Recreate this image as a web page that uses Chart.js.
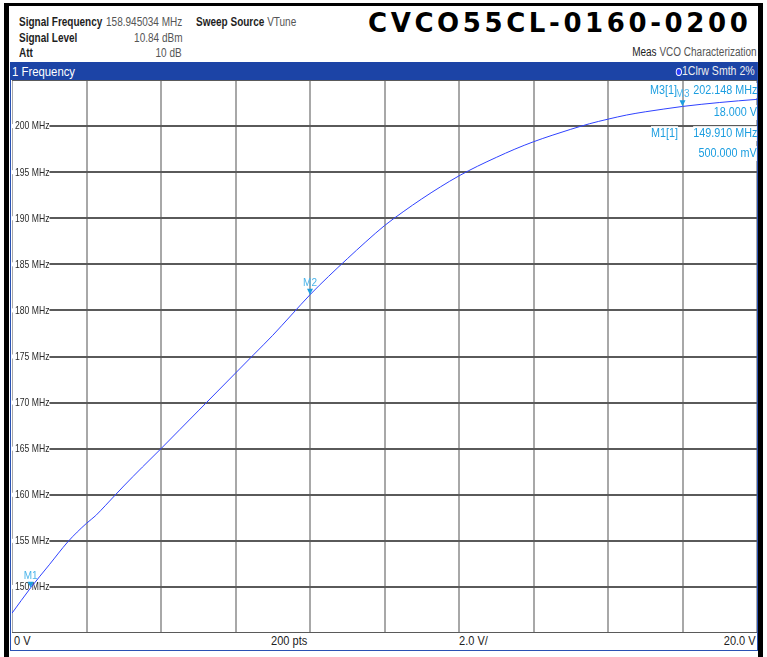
<!DOCTYPE html>
<html>
<head>
<meta charset="utf-8">
<script src="https://cdn.jsdelivr.net/npm/chart.js@4.4.0/dist/chart.umd.min.js"></script>
<style>
body { margin: 0; width: 767px; height: 657px; overflow: hidden; position: relative; background: #fff;
  font-family: "Liberation Sans", Arial, sans-serif; }
.t { position: absolute; white-space: nowrap; font-size: 12.5px; line-height: 15px;
  transform: scaleX(0.8); transform-origin: left center; }
.r { text-align: right; transform-origin: right center; }
.b { font-weight: bold; color: #1e1e1e; }
.g { color: #555; }
.mk { color: #1c9ee0; background: rgba(255,255,255,0.85); z-index: 5; font-size: 12px; transform: scaleX(0.9); }
.ax { color: #222; font-size: 12px; transform: scaleX(0.92); }
#frameL { position: absolute; left: 4px; top: 3px; width: 5px; height: 660px; background: #000; }
#frameR { position: absolute; left: 758px; top: 3px; width: 5px; height: 660px; background: #000; }
#frameT { position: absolute; left: 4px; top: 3px; width: 759px; height: 3px; background: #000; }
#bar { position: absolute; left: 10px; top: 62px; width: 747px; height: 18px; background: #1c44a6; }
#edge { position: absolute; left: 10px; top: 62px; width: 746px; height: 588px; border: 1px solid #2a52b4; border-top: none; }
#plot { position: absolute; left: 12px; top: 80px; width: 745px; height: 553px; }
#title { position: absolute; left: 368px; top: 10px; font-family: "DejaVu Sans", sans-serif; font-weight: bold;
  font-size: 26px; line-height: 26px; letter-spacing: 3.6px; color: #000; white-space: nowrap; }
</style>
</head>
<body>
<div id="frameL"></div><div id="frameR"></div><div id="frameT"></div>
<div id="edge"></div>

<div class="t b" style="left:19px;top:15px">Signal Frequency</div>
<div class="t g r" style="right:585px;top:15px">158.945034 MHz</div>
<div class="t b" style="left:19px;top:31px">Signal Level</div>
<div class="t g r" style="right:585px;top:31px">10.84 dBm</div>
<div class="t b" style="left:19px;top:46px">Att</div>
<div class="t g r" style="right:585px;top:46px">10 dB</div>
<div class="t" style="left:196px;top:15px"><span class="b">Sweep Source</span> <span class="g">VTune</span></div>
<div id="title">CVCO55CL-0160-0200</div>
<div class="t r" style="right:10px;top:45px"><span style="color:#222">Meas</span> <span class="g">VCO Characterization</span></div>

<div id="bar"></div>
<div class="t" style="left:12px;top:64px;font-size:13.5px;color:#fff;z-index:3;transform:scaleX(0.84)">1 Frequency</div>
<div class="t r" style="right:12px;top:64px;font-size:12px;color:#eee;z-index:3;transform:scaleX(0.88)"><span style="display:inline-block;width:5px;height:6px;border-radius:50%;background:#2d3cff;border:1px solid #fff;vertical-align:-1px"></span>1Clrw Smth 2%</div>

<div id="plot"><canvas id="chart" width="745" height="553"></canvas></div>

<div class="t mk" style="left:650px;top:83px">M3[1]</div>
<div class="t mk r" style="right:10px;top:83px">202.148 MHz</div>
<div class="t mk r" style="right:10px;top:105px">18.000 V</div>
<div class="t mk" style="left:651px;top:126px">M1[1]</div>
<div class="t mk r" style="right:10px;top:126px">149.910 MHz</div>
<div class="t mk r" style="right:10px;top:146px">500.000 mV</div>

<div class="t ax" style="left:14px;top:634px">0 V</div>
<div class="t ax" style="left:271px;top:634px">200 pts</div>
<div class="t ax" style="left:459px;top:634px">2.0 V/</div>
<div class="t ax r" style="right:11px;top:634px">20.0 V</div>

<script>
const tuneVolts = [0, 0.5, 1, 1.5, 1.75, 2, 2.25, 2.5, 3, 3.5, 4, 4.5, 5, 5.5, 6, 6.5, 7, 7.5, 8, 8.5, 9, 9.5, 10,
  10.5, 11, 11.5, 12, 12.5, 13, 13.5, 14, 14.5, 15, 15.5, 16, 16.5, 17, 17.5, 18, 18.5, 19, 19.5, 20];
const freqMHz = [147.15, 149.9, 152.4, 154.9, 155.95, 156.9, 157.75, 158.8, 160.95, 163.0, 165.0, 167.05, 169.1, 171.15, 173.2,
  175.25, 177.3, 179.5, 181.7, 183.7, 185.6, 187.45, 189.2, 190.7, 192.1, 193.4, 194.6, 195.65, 196.6, 197.5,
  198.3, 199.0, 199.65, 200.25, 200.75, 201.2, 201.55, 201.85, 202.13, 202.36, 202.56, 202.74, 202.9];

const freqTicks = [150, 155, 160, 165, 170, 175, 180, 185, 190, 195, 200];

const markerNames = ['M1', 'M2', 'M3'];
const markerVolts = [0.5, 8, 18];
const markerFreq = [149.91, 181.7, 202.148];

const FONT = '"Liberation Sans", Arial, sans-serif';

// y labels sit inside the plot, the grid line starts where the text ends
const freqLabels = {
  id: 'freqLabels',
  beforeDatasetsDraw(chart) {
    const ctx = chart.ctx, ys = chart.scales.y, left = chart.chartArea.left;
    ctx.save();
    ctx.font = '10.5px ' + FONT;
    ctx.textBaseline = 'middle';
    freqTicks.forEach(f => {
      const py = ys.getPixelForValue(f);
      const txt = f + ' MHz';
      const w = ctx.measureText(txt).width * 0.82;
      ctx.fillStyle = '#fff';
      ctx.fillRect(left, py - 2, w + 3, 4);
      ctx.save();
      ctx.translate(left + 3, py);
      ctx.scale(0.82, 1);
      ctx.fillStyle = '#2a2a2a';
      ctx.fillText(txt, 0, 0.5);
      ctx.restore();
    });
    ctx.restore();
  }
};

const markerPlugin = {
  id: 'markers',
  afterDatasetsDraw(chart) {
    const ctx = chart.ctx;
    const xs = chart.scales.x, ys = chart.scales.y;
    ctx.save();
    markerNames.forEach((name, i) => {
      const px = xs.getPixelForValue(markerVolts[i]);
      const py = ys.getPixelForValue(markerFreq[i]);
      ctx.fillStyle = '#1c9ee0';
      ctx.beginPath();
      ctx.moveTo(px - 3, py - 6);
      ctx.lineTo(px + 3, py - 6);
      ctx.lineTo(px, py);
      ctx.closePath();
      ctx.fill();
      ctx.fillStyle = '#4ab4ea';
      ctx.font = '10px ' + FONT;
      ctx.textAlign = 'center';
      ctx.fillText(name, px, py - 9);
    });
    ctx.restore();
  }
};

const noPad = s => { s.paddingTop = 0; s.paddingBottom = 0; s.paddingLeft = 0; s.paddingRight = 0; };

new Chart(document.getElementById('chart'), {
  type: 'line',
  data: {
    datasets: [{
      data: tuneVolts.map((v, i) => ({ x: v, y: freqMHz[i] })),
      borderColor: '#2f42ff',
      borderWidth: 1,
      pointRadius: 0,
      cubicInterpolationMode: 'monotone'
    }]
  },
  options: {
    responsive: false,
    animation: false,
    layout: { padding: 0 },
    scales: {
      x: {
        type: 'linear', min: 0, max: 20,
        ticks: { display: false, stepSize: 2 },
        grid: { color: '#a8a8a8', lineWidth: 2, drawTicks: false },
        border: { display: false },
        afterFit: s => { s.height = 0; noPad(s); }
      },
      y: {
        min: 145, max: 205,
        ticks: { display: false, stepSize: 5 },
        grid: { color: '#5a5a5a', lineWidth: 2, drawTicks: false },
        border: { display: false },
        afterFit: s => { s.width = 0; noPad(s); }
      }
    },
    plugins: { legend: { display: false }, tooltip: { enabled: false } }
  },
  plugins: [freqLabels, markerPlugin]
});
</script>
</body>
</html>
